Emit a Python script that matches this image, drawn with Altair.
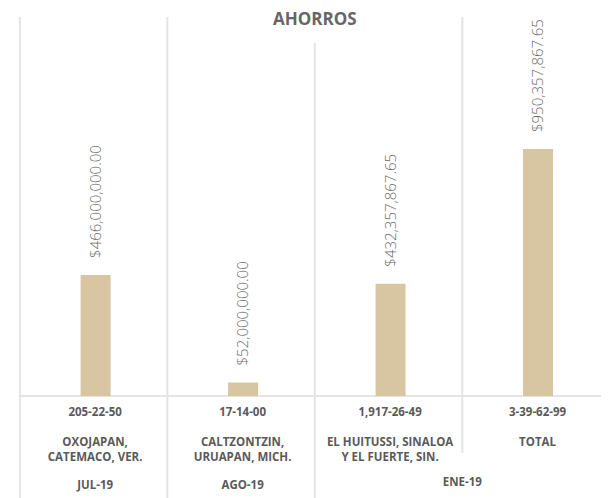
import altair as alt
import pandas as pd

# ---- data ----
title_text = "AHORROS"
codes = ["205-22-50", "17-14-00", "1,917-26-49", "3-39-62-99"]
place_line1 = ["OXOJAPAN,", "CALTZONTZIN,", "EL HUITUSSI, SINALOA", "TOTAL"]
place_line2 = ["CATEMACO, VER.", "URUAPAN, MICH.", "Y EL FUERTE, SIN.", ""]
savings = [466000000.00, 52000000.00, 432357867.65, 950357867.65]
periods = ["JUL-19", "AGO-19", "ENE-19"]
period_first_col = [0, 1, 2]
period_last_col = [0, 1, 3]

# ---- layout / style ----
W, H = 593, 490
X0, COL = 7, 150          # pixel of first column edge, column width
Y0, YTOP = 388, 141       # baseline pixel, pixel of the tallest bar top
FONT = "Open Sans"
GRID = "#e4e4e4"
BAR = "#d8c6a2"
TXT = "#5a5a5a"

px_per = (Y0 - YTOP) / max(savings)
x_scale = alt.Scale(domain=[-X0 / COL, (W - X0) / COL], nice=False)
y_scale = alt.Scale(domain=[-(H - Y0) / px_per, Y0 / px_per], nice=False)

df = pd.DataFrame({
    "pos": [i + 0.5 for i in range(len(codes))],
    "code": codes,
    "l1": place_line1,
    "l2": place_line2,
    "value": savings,
})
per_df = pd.DataFrame({
    "period": periods,
    "pos": [(a + b + 1) / 2 for a, b in zip(period_first_col, period_last_col)],
    "span": [b - a + 1 for a, b in zip(period_first_col, period_last_col)],
})
n = len(codes)
edges = pd.DataFrame({"pos": list(range(n)), "zero": [0.0] * n, "end": [n + 1] * n})

X = alt.X("pos:Q", scale=x_scale, axis=None)
Y = alt.Y("value:Q", scale=y_scale, axis=None)

base = alt.Chart(df)

bars = base.mark_bar(size=30, color=BAR, xOffset=2).encode(x=X, y=Y)

value_labels = base.mark_text(
    angle=270, align="left", baseline="middle", dx=17, dy=2,
    font=FONT, fontSize=15, fontWeight=300, color="#6a6a6a",
).encode(x=X, y=Y, text=alt.Text("value:Q", format="$,.2f"))

rule_kw = dict(color=GRID, strokeWidth=2)
sep_a = alt.Chart(edges).transform_filter("datum.pos < 2").mark_rule(**rule_kw).encode(
    x=X, y=alt.value(9), y2=alt.value(H))
sep_b = alt.Chart(edges).transform_filter("datum.pos == 2").mark_rule(**rule_kw).encode(
    x=X, y=alt.value(35), y2=alt.value(H))
sep_c = alt.Chart(edges).transform_filter("datum.pos == 3").mark_rule(**rule_kw).encode(
    x=X, y=alt.value(9), y2=alt.value(445))

hline = alt.Chart(edges).transform_filter("datum.pos == 0").mark_rule(**rule_kw).encode(
    x=X, x2="end:Q", y=alt.Y("zero:Q", scale=y_scale, axis=None))

title = alt.Chart(edges).transform_filter("datum.pos == 2").transform_calculate(
    t=f"'{title_text}'").mark_text(
    font=FONT, fontSize=17, fontWeight="bold", color="#666666", baseline="middle",
).encode(x=X, y=alt.value(12), text="t:N")

tkw = dict(font=FONT, fontSize=11.5, fontWeight="bold", color=TXT, baseline="middle")
code_text = base.mark_text(xOffset=1.5, **tkw).encode(x=X, y=alt.value(405), text="code:N")
line1_text = base.mark_text(xOffset=1.5, **tkw).encode(x=X, y=alt.value(435), text="l1:N")
line2_text = base.mark_text(xOffset=1.5, **tkw).encode(x=X, y=alt.value(450), text="l2:N")
period_single = alt.Chart(per_df).transform_filter("datum.span == 1").mark_text(
    xOffset=1.5, **tkw).encode(x=X, y=alt.value(478), text="period:N")
period_merged = alt.Chart(per_df).transform_filter("datum.span > 1").mark_text(
    **tkw).encode(x=X, y=alt.value(475), text="period:N")

chart = alt.layer(
    sep_a, sep_b, sep_c, hline, bars, value_labels, title,
    code_text, line1_text, line2_text, period_single, period_merged
).properties(
    width=W, height=H, padding=0, autosize=alt.AutoSizeParams(type="none")
).configure_view(strokeWidth=0)

chart.save("out.html", embed_options={"renderer": "svg", "actions": False})
